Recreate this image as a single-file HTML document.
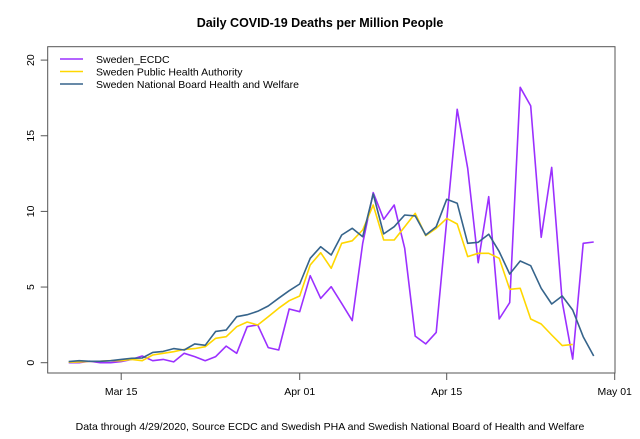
<!DOCTYPE html>
<html><head><meta charset="utf-8"><style>
body{margin:0;background:#fff;}
svg text{font-family:"Liberation Sans",Arial,sans-serif;}
</style></head><body>
<svg id="chart" width="640" height="434" viewBox="0 0 640 434">
<text x="320" y="27" text-anchor="middle" font-size="12.5" font-weight="bold">Daily COVID-19 Deaths per Million People</text>
<rect x="47.7" y="46.7" width="567.3" height="326.3" fill="none" stroke="#555" stroke-width="1"/>
<g id="axes"></g>
<g id="series"></g>
<g>
<line x1="60" y1="59" x2="83" y2="59" stroke="#9b30ff" stroke-width="1.5"/>
<text x="96" y="63" font-size="10.5">Sweden_ECDC</text>
<line x1="60" y1="71.5" x2="83" y2="71.5" stroke="#ffd700" stroke-width="1.5"/>
<text x="96" y="75.5" font-size="10.5">Sweden Public Health Authority</text>
<line x1="60" y1="84" x2="83" y2="84" stroke="#36648b" stroke-width="1.5"/>
<text x="96" y="88" font-size="10.5">Sweden National Board Health and Welfare</text>
</g>
<text x="330" y="430" text-anchor="middle" font-size="10.5">Data through 4/29/2020, Source ECDC and Swedish PHA and Swedish National Board of Health and Welfare</text>
</svg>
<script>
const xTickLabels=["Mar 15","Apr 01","Apr 15","May 01"];
const xTickDays=[5,22,36,52];
const yTicks=[0,5,10,15,20];
const ecdc=[0,0,0.1,0,0,0.07,0.22,0.44,0.13,0.22,0.05,0.62,0.4,0.13,0.4,1.1,0.62,2.38,2.5,1.0,0.84,3.55,3.37,5.75,4.25,5.02,3.92,2.78,7.89,11.24,9.48,10.42,7.56,1.76,1.24,2.0,9.4,16.75,12.85,6.61,10.97,2.89,3.97,18.2,16.97,8.29,12.91,4.03,0.24,7.89,7.98];
const pha=[0.03,0.05,0.09,0.1,0.13,0.13,0.22,0.13,0.51,0.62,0.73,0.88,0.93,1.06,1.61,1.72,2.38,2.69,2.49,3.04,3.6,4.1,4.41,6.46,7.27,6.24,7.89,8.06,8.77,10.42,8.11,8.11,8.99,9.87,8.4,8.88,9.54,9.17,7.01,7.23,7.23,6.9,4.85,4.92,2.89,2.56,1.83,1.13,1.21];
const nbhw=[0.07,0.13,0.09,0.09,0.13,0.22,0.29,0.31,0.68,0.75,0.93,0.84,1.24,1.15,2.07,2.16,3.04,3.17,3.4,3.75,4.26,4.76,5.2,6.9,7.67,7.12,8.44,8.88,8.33,11.15,8.51,8.99,9.76,9.7,8.44,8.99,10.8,10.54,7.89,7.96,8.49,7.34,5.86,6.72,6.41,4.92,3.88,4.41,3.48,1.72,0.44];
const NS="http://www.w3.org/2000/svg";
function xs(d){return 68.7+10.5*d;}
function ys(v){return 362.7-15.13*v;}
const axes=document.getElementById('axes');
const series=document.getElementById('series');
function mk(tag,attrs,parent){const e=document.createElementNS(NS,tag);for(const k in attrs)e.setAttribute(k,attrs[k]);parent.appendChild(e);return e;}
xTickLabels.forEach((lab,i)=>{
  const x=xs(xTickDays[i]);
  const t=mk('line',{x1:x,y1:373,x2:x,y2:380,stroke:'#555'},axes);
  
  
  const tx=mk('text',{x:x,y:395,'text-anchor':'middle','font-size':'10.5'},axes);
  tx.textContent=lab;
  
  
});
yTicks.forEach(v=>{
  const y=ys(v);
  const t=mk('line',{x1:40.7,y1:y,x2:47.7,y2:y,stroke:'#555'},axes);
  
  
  const tx=mk('text',{x:0,y:0,'text-anchor':'middle','font-size':'10.5',transform:'translate(34,'+y+') rotate(-90)'},axes);
  tx.textContent=String(v);
  
  
});
function line(data,color,name){
  const pts=data.map((v,i)=>xs(i).toFixed(1)+','+ys(v).toFixed(1)).join(' ');
  const p=mk('polyline',{points:pts,fill:'none',stroke:color,'stroke-width':'1.6','stroke-linejoin':'round'},series);
  
  
}
line(ecdc,'#9b30ff','series-ecdc');
line(pha,'#ffd700','series-pha');
line(nbhw,'#36648b','series-nbhw');
</script>
</body></html>
